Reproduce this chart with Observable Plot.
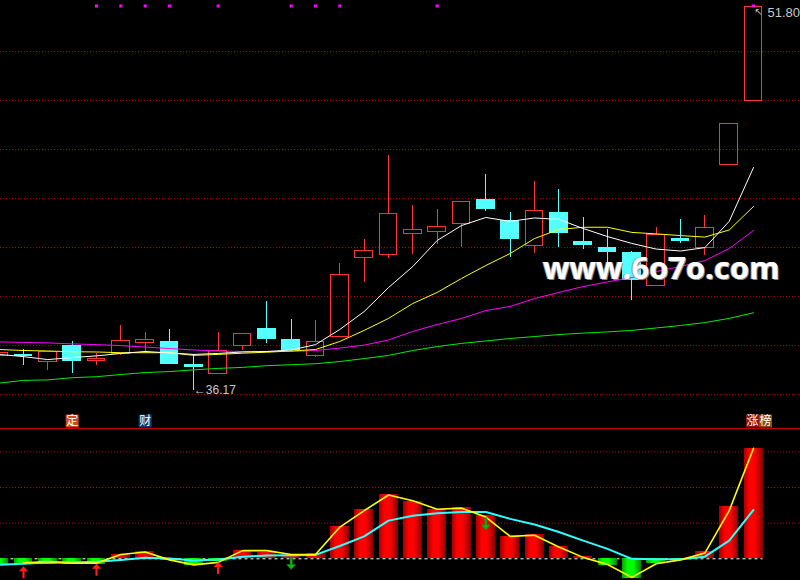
<!DOCTYPE html>
<html><head><meta charset="utf-8">
<script src="https://cdn.jsdelivr.net/npm/d3@7"></script>
<script src="https://cdn.jsdelivr.net/npm/@observablehq/plot@0.6"></script>
<style>
html,body{margin:0;padding:0;background:#000;width:800px;height:580px;overflow:hidden;}
#wrap{position:relative;width:800px;height:580px;background:#000;}
#sep{height:1px;background:#c80000;}
svg{display:block;}
#wm{position:absolute;left:543px;top:252px;font-family:'Open Sans';font-weight:700;font-size:31px;color:#fff;line-height:1;white-space:nowrap;text-shadow:1px 1px 0 #8a8a8a,-1px 0 0 #9a9a9a;}
</style></head><body><div id="wrap"></div>
<script>
// ---- data (index -1 is the partly visible first day) ----
const day   = [-1,0,1,2,3,4,5,6,7,8,9,10,11,12,13,14,15,16,17,18,19,20,21,22,23,24,25,26,27,28,29,30];
const open  = [37.58,37.64,37.32,38.00,37.36,37.67,38.10,38.17,37.24,36.85,37.98,38.70,38.25,37.58,38.34,41.58,41.71,42.56,42.64,42.97,43.96,43.11,42.07,43.43,42.25,42.00,41.80,40.42,42.37,41.98,45.38,47.99];
const high  = [37.69,37.84,37.73,38.17,37.69,38.82,38.53,38.66,37.62,38.53,38.48,39.80,39.07,39.02,41.35,42.33,45.76,43.72,43.56,43.87,44.98,43.43,44.70,44.37,43.23,42.74,41.84,42.82,43.15,43.31,47.05,51.80];
const low   = [37.58,37.19,36.98,36.87,37.19,37.60,37.67,37.22,36.17,36.85,37.80,38.10,37.73,37.53,38.34,40.59,41.54,41.71,42.11,42.02,43.49,41.61,41.75,42.02,41.93,41.34,39.85,40.42,42.18,41.68,45.38,47.99];
const close = [37.69,37.56,37.73,37.35,37.46,38.17,38.24,37.24,37.12,37.80,38.48,38.26,37.80,38.16,40.89,41.87,43.38,42.70,42.85,43.87,43.57,42.34,43.50,42.59,42.09,41.81,40.64,42.53,42.26,42.81,47.05,51.80];
const ma5   = [37.64,37.55,37.43,37.51,37.58,37.68,37.76,37.70,37.64,37.68,37.74,37.76,37.82,38.04,38.66,39.39,40.37,41.23,42.29,42.90,43.23,43.07,43.21,43.15,42.78,42.45,42.17,41.94,41.86,42.00,43.07,45.27];
const ma10  = [37.84,37.80,37.78,37.75,37.74,37.71,37.71,37.71,37.60,37.64,37.69,37.73,37.78,37.84,38.17,38.62,39.11,39.72,40.17,40.74,41.27,41.76,42.37,42.74,42.83,42.83,42.62,42.56,42.49,42.43,42.72,43.68];
const ma20  = [38.15,38.13,38.11,38.07,38.04,38.00,37.94,37.88,37.82,37.78,37.76,37.76,37.76,37.80,37.90,38.02,38.23,38.58,38.86,39.11,39.43,39.60,39.92,40.17,40.41,40.60,40.78,41.02,41.23,41.47,41.96,42.70];
const ma60  = [36.47,36.58,36.60,36.69,36.73,36.82,36.90,36.94,37.01,37.07,37.11,37.18,37.22,37.26,37.35,37.47,37.60,37.80,37.96,38.09,38.19,38.29,38.37,38.45,38.51,38.56,38.62,38.72,38.82,38.94,39.11,39.34];
const priceGrid = [36,38,40,42,44,46,48,50];
const topMarks  = [3,4,5,6,8,11,12,13,17,30];

const macd = [-0.15,-0.15,-0.15,-0.15,-0.15,0.12,0.20,-0.06,-0.19,-0.07,0.23,0.19,0.08,0.14,0.91,1.38,1.80,1.61,1.37,1.43,1.21,0.63,0.68,0.35,0.07,-0.18,-0.54,-0.12,-0.02,0.20,1.47,3.10];
const dif  = [null,-0.11,-0.08,-0.12,-0.12,0.12,0.19,-0.03,-0.17,-0.10,0.23,0.23,0.12,0.12,0.89,1.35,1.79,1.63,1.39,1.42,1.17,0.63,0.66,0.33,0.04,-0.16,-0.52,-0.14,-0.03,0.16,1.35,3.10];
const dea  = [-0.17,-0.14,-0.10,-0.10,-0.08,-0.03,0.03,0.01,-0.05,-0.02,0.06,0.09,0.10,0.11,0.36,0.63,1.07,1.21,1.28,1.31,1.31,1.12,0.96,0.75,0.51,0.28,0.00,-0.01,-0.01,0.06,0.51,1.37];
const indGrid = [1,2,3];
const buyDay  = [0,3,8];
const buyVal  = [-0.38,-0.31,-0.26];
const sellDay = [11,19];
const sellVal = [-0.13,0.98];

// ---- helpers ----
const RED = "#ff3434", CYAN = "#54ffff";
const rows = day.map((d,k)=>({d,o:open[k],h:high[k],l:low[k],c:close[k],m5:ma5[k],m10:ma10[k],m20:ma20[k],m60:ma60[k]}));
const ups = rows.filter(r=>r.c>=r.o), downs = rows.filter(r=>r.c<r.o);
const xs = {domain:[-0.945,31.93], range:[0,800]};
const HWR = 0.36, HWC = 0.385;
const lowest = d3.least(rows, r=>r.l), highest = d3.greatest(rows, r=>r.h);
const wrap = document.getElementById("wrap");

const main = Plot.plot({
  width:800, height:412, margin:0,
  style:{background:"#000"},
  x:{...xs, axis:null},
  y:{domain:[35.2694,52.0857], range:[412,0], axis:null},
  marks:[
    Plot.ruleY(priceGrid,{stroke:"#b40000",strokeDasharray:"1,2"}),
    Plot.ruleX(ups,{x:"d",y1:"c",y2:"h",stroke:RED,shapeRendering:"crispEdges"}),
    Plot.ruleX(ups,{x:"d",y1:"l",y2:"o",stroke:RED,shapeRendering:"crispEdges"}),
    Plot.rect(ups,{x1:r=>r.d-HWR,x2:r=>r.d+HWR,y1:"o",y2:"c",fill:"none",stroke:RED,shapeRendering:"crispEdges"}),
    Plot.ruleX(downs,{x:"d",y1:"l",y2:"h",stroke:CYAN,shapeRendering:"crispEdges"}),
    Plot.rect(downs,{x1:r=>r.d-HWC,x2:r=>r.d+HWC,y1:"c",y2:"o",fill:CYAN,shapeRendering:"crispEdges"}),
    Plot.line(rows,{x:"d",y:"m60",stroke:"#00ee00",strokeWidth:1}),
    Plot.line(rows,{x:"d",y:"m20",stroke:"#ff00ff",strokeWidth:1}),
    Plot.line(rows,{x:"d",y:"m10",stroke:"#ffff00",strokeWidth:1}),
    Plot.line(rows,{x:"d",y:"m5",stroke:"#ffffff",strokeWidth:1}),
    Plot.dot(topMarks,{x:d=>d,frameAnchor:"top",dy:5.5,symbol:"square",r:1.75,fill:"#ff00ff"}),
    Plot.text([lowest],{x:"d",y:"l",text:r=>"←"+r.l.toFixed(2),textAnchor:"start",fill:"#c8c8c8",fontSize:12,fontFamily:"Liberation Sans"}),
    Plot.text([highest],{x:"d",y:"h",text:r=>"↖",textAnchor:"start",dx:1,dy:4,fill:"#c8c8c8",fontSize:10,fontFamily:"DejaVu Sans"}),
    Plot.text([highest],{x:"d",y:"h",text:r=>r.h.toFixed(2),textAnchor:"start",dx:14,dy:5,fill:"#c8c8c8",fontSize:13,fontFamily:"Liberation Sans"})
  ]
});
wrap.appendChild(main);

// labels strip
const lab = (d,t,bg,dx)=>[
  Plot.dot([d],{x:v=>v,frameAnchor:"middle",dx,dy:0.5,symbol:"square",r:7.33,fill:bg}),
  Plot.text([d],{x:v=>v,frameAnchor:"middle",dx,dy:0.5,text:()=>t,fill:"#fff",fontSize:12,fontFamily:"Noto Sans CJK SC"})
];
const strip = Plot.plot({
  width:800, height:16, margin:0, style:{background:"#000"},
  x:{...xs, axis:null},
  marks:[...lab(2,"定","#c44e16",0),...lab(5,"财","#0d3c6e",0),...lab(30,"涨","#8c1212",-1),...lab(30,"榜","#8e4c12",12)]
});
wrap.appendChild(strip);
const sep = document.createElement("div"); sep.id="sep"; wrap.appendChild(sep);

// indicator panel
const ind = day.map((d,k)=>({d,v:macd[k],dif:dif[k],dea:dea[k]}));
const arrowUp = {draw(c){c.moveTo(0,-6);c.lineTo(4.7,-1);c.lineTo(1.1,-1);c.lineTo(1.1,6);c.lineTo(-1.1,6);c.lineTo(-1.1,-1);c.lineTo(-4.7,-1);c.closePath();}};
const arrowDown = {draw(c){c.moveTo(0,6);c.lineTo(4.7,1);c.lineTo(1.1,1);c.lineTo(1.1,-6);c.lineTo(-1.1,-6);c.lineTo(-1.1,1);c.lineTo(-4.7,1);c.closePath();}};
const HWB = 0.39;
const lower = Plot.plot({
  width:800, height:151, margin:0, style:{background:"#000"},
  x:{...xs, axis:null},
  y:{domain:[-0.608,3.625], range:[151,0], axis:null},
  marks:[
    Plot.ruleY(indGrid,{stroke:"#b40000",strokeDasharray:"1,2"}),
    Plot.ruleY([{v:0,a:day[0]-0.5,b:day[day.length-1]+HWB}],{y:"v",x1:"a",x2:"b",stroke:"#ffffff",strokeDasharray:"3,3"}),
    Plot.rect(ind.filter(r=>r.v>=0),{x1:r=>r.d-HWB,x2:r=>r.d+HWB,y1:0,y2:"v",fill:"url(#gR)",shapeRendering:"crispEdges"}),
    Plot.rect(ind.filter(r=>r.v<0),{x1:r=>r.d-HWB,x2:r=>r.d+HWB,y1:0,y2:"v",fill:"url(#gG)",shapeRendering:"crispEdges"}),
    Plot.line(ind,{x:"d",y:"dea",stroke:"#30ffff",strokeWidth:2}),
    Plot.line(ind,{x:"d",y:"dif",stroke:"#ffff00",strokeWidth:1.6}),
    Plot.dot(buyDay.map((d,k)=>({d,v:buyVal[k]})),{x:"d",y:"v",symbol:arrowUp,fill:"#ff1c1c",stroke:"none"}),
    Plot.dot(sellDay.map((d,k)=>({d,v:sellVal[k]})),{x:"d",y:"v",symbol:arrowDown,fill:"#10b410",stroke:"#0a7a0a",strokeWidth:0.5})
  ]
});
const ns="http://www.w3.org/2000/svg";
const defs=document.createElementNS(ns,"defs");
defs.innerHTML='<linearGradient id="gR" x1="0" x2="1" y1="0" y2="0"><stop offset="0" stop-color="#a00000"/><stop offset="0.3" stop-color="#ff0000"/><stop offset="0.6" stop-color="#ff0000"/><stop offset="1" stop-color="#8a0000"/></linearGradient>'+
 '<linearGradient id="gG" x1="0" x2="1" y1="0" y2="0"><stop offset="0" stop-color="#00a000"/><stop offset="0.3" stop-color="#00ff00"/><stop offset="0.6" stop-color="#00ff00"/><stop offset="1" stop-color="#008a00"/></linearGradient>';
lower.insertBefore(defs, lower.firstChild);
wrap.appendChild(lower);

const wm=document.createElement("div"); wm.id="wm"; wm.textContent="www.6o7o.com"; wrap.appendChild(wm);
</script></body></html>
